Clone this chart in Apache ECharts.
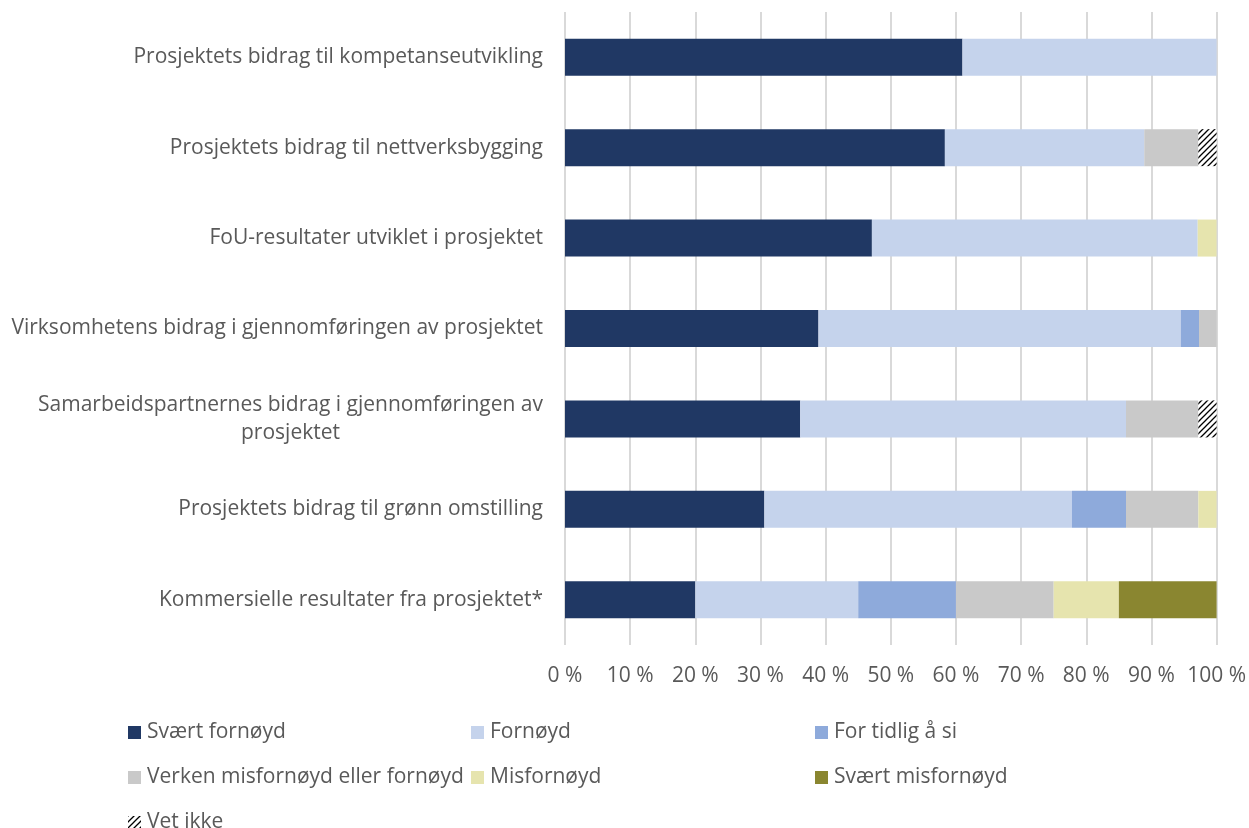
<!DOCTYPE html>
<html>
<head>
<meta charset="utf-8">
<script src="https://cdn.jsdelivr.net/npm/echarts@6/dist/echarts.min.js"></script>
<style>
  html, body { margin: 0; padding: 0; background: #ffffff; }
  #chart { width: 1249px; height: 828px; }
</style>
</head>
<body>
<div id="chart"></div>
<script>
// Questions, top to bottom
const categories = [
  'Prosjektets bidrag til kompetanseutvikling',
  'Prosjektets bidrag til nettverksbygging',
  'FoU-resultater utviklet i prosjektet',
  'Virksomhetens bidrag i gjennomføringen av prosjektet',
  'Samarbeidspartnernes bidrag i gjennomføringen av\nprosjektet',
  'Prosjektets bidrag til grønn omstilling',
  'Kommersielle resultater fra prosjektet*'
];

// Share of answers (%) per category, same order as categories
const sværtFornøyd      = [61.0, 58.3, 47.1, 38.9, 36.1, 30.6, 20];
const fornøyd           = [39.0, 30.6, 50.0, 55.6, 50.0, 47.2, 25];
const forTidlig         = [0,    0,    0,    2.8,  0,    8.3,  15];
const verken            = [0,    8.3,  0,    2.8,  11.1, 11.1, 15];
const misfornøyd        = [0,    0,    2.9,  0,    0,    2.8,  10];
const sværtMisfornøyd   = [0,    0,    0,    0,    0,    0,    15];
const vetIkke           = [0,    2.8,  0,    0,    2.8,  0,    0];

const xTicks = [0, 10, 20, 30, 40, 50, 60, 70, 80, 90, 100];

const seriesNames = [
  'Svært fornøyd', 'Fornøyd', 'For tidlig å si',
  'Verken misfornøyd eller fornøyd', 'Misfornøyd', 'Svært misfornøyd', 'Vet ikke'
];
const seriesData = [sværtFornøyd, fornøyd, forTidlig, verken, misfornøyd, sværtMisfornøyd, vetIkke];

// Diagonal hatch used for "Vet ikke"
function hatchPattern() {
  const c = document.createElement('canvas');
  c.width = 6; c.height = 6;
  const ctx = c.getContext('2d');
  ctx.fillStyle = '#ffffff';
  ctx.fillRect(0, 0, 6, 6);
  ctx.strokeStyle = '#000000';
  ctx.lineWidth = 1.3;
  ctx.beginPath();
  ctx.moveTo(0, 6); ctx.lineTo(6, 0);
  ctx.moveTo(-3, 3); ctx.lineTo(3, -3);
  ctx.moveTo(3, 9); ctx.lineTo(9, 3);
  ctx.stroke();
  return { image: c, repeat: 'repeat' };
}

const colors = ['#203864', '#c5d3ec', '#8eaadb', '#c9c9c9', '#e6e4ae', '#8a8630', hatchPattern()];

const FONT = '"Open Sans", Lato, sans-serif';
const FONT_SIZE = 21;
const textColor = '#595959';

// Width of the first line of the two-line label, so its second line centres under it
function measure(text, size) {
  const c = document.createElement('canvas').getContext('2d');
  c.font = size + 'px "Open Sans"';
  return Math.ceil(c.measureText(text).width);
}
const wrapWidth = measure('Samarbeidspartnernes bidrag i gjennomføringen av', FONT_SIZE);

// Legend positions (left, vertical centre): three columns, three rows
const legendPos = [
  [128, 730], [471, 730], [815, 730],
  [128, 775], [471, 775], [815, 775],
  [128, 820]
];

const chart = echarts.init(document.getElementById('chart'), null, { renderer: 'canvas' });

chart.setOption({
  animation: false,
  backgroundColor: '#ffffff',
  grid: { left: 565, right: 32, top: 12, bottom: 183, containLabel: false },
  xAxis: {
    type: 'value',
    min: 0,
    max: 100,
    interval: 10,
    axisLine: { show: false },
    axisTick: { show: false },
    splitLine: { show: true, lineStyle: { color: '#d9d9d9', width: 2 } },
    axisLabel: {
      margin: 21,
      fontFamily: FONT,
      fontSize: FONT_SIZE,
      color: textColor,
      formatter: v => xTicks.includes(v) ? v + ' %' : ''
    }
  },
  yAxis: {
    type: 'category',
    inverse: true,
    data: categories,
    axisLine: { show: false },
    axisTick: { show: false },
    splitLine: { show: false },
    axisLabel: {
      margin: 22,
      fontFamily: FONT,
      fontSize: FONT_SIZE,
      color: textColor,
      lineHeight: 28,
      formatter: function (v) {
        if (v.indexOf('\n') >= 0) {
          return v.split('\n').map(s => '{c|' + s + '}').join('\n');
        }
        return v;
      },
      rich: {
        c: {
          width: wrapWidth,
          align: 'center',
          fontFamily: FONT,
          fontSize: FONT_SIZE,
          color: textColor,
          lineHeight: 28
        }
      }
    }
  },
  legend: seriesNames.map((n, i) => ({
    data: [n],
    left: legendPos[i][0],
    top: legendPos[i][1] - 8,
    orient: 'horizontal',
    itemWidth: 13,
    itemHeight: 13,
    itemGap: 0,
    icon: 'rect',
    padding: 0,
    textStyle: { fontFamily: FONT, fontSize: FONT_SIZE, color: textColor, padding: [0, 0, 0, 1] },
    selectedMode: false
  })),
  series: seriesNames.map((n, i) => ({
    name: n,
    type: 'bar',
    stack: 'total',
    barWidth: 37,
    data: seriesData[i],
    itemStyle: { color: colors[i] },
    emphasis: { disabled: true }
  }))
});
</script>
</body>
</html>
